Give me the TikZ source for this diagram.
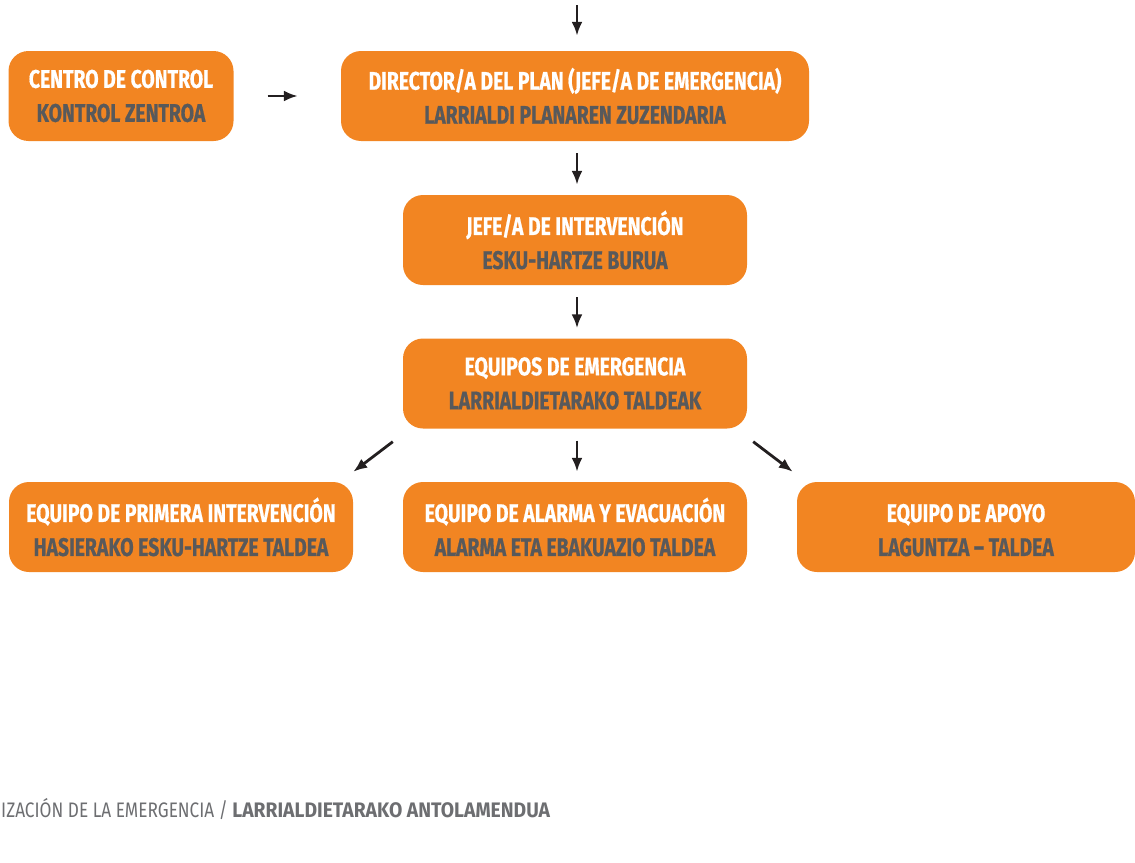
\documentclass[tikz,border=0pt]{standalone}
\usepackage{fontspec}
\newfontfamily\dinfont[FakeStretch=0.76, BoldFeatures={FakeBold=0.6}]{Fira Sans}
\newfontfamily\piefont[FakeStretch=0.82, BoldFeatures={FakeStretch=0.92}]{Fira Sans}
\usetikzlibrary{arrows.meta,calc}
\definecolor{naranja}{HTML}{F28522}
\definecolor{grisTxt}{HTML}{58595B}
\definecolor{grisPie}{HTML}{6D6E71}
\definecolor{negro}{HTML}{231F20}

\begin{document}
\begin{tikzpicture}[x=1pt,y=-1pt,
    caja/.style={rectangle, rounded corners=20pt, fill=naranja, inner sep=0pt,
        minimum height=90pt, align=center,
        font=\dinfont\bfseries\fontsize{25.5}{34}\selectfont},
    flecha/.style={-{Latex[length=14pt,width=11pt]}, line width=2.8pt, negro}]
    \useasboundingbox (0,0) rectangle (1135,862);

    % Boxes
    \node[caja, minimum width=225pt] (centro) at (121,96)
        {\textcolor{white}{CENTRO DE CONTROL}\\\textcolor{grisTxt}{KONTROL ZENTROA}};
    \node[caja, minimum width=468pt] (director) at (575,96)
        {\textcolor{white}{DIRECTOR/A DEL PLAN (JEFE/A DE EMERGENCIA)}\\\textcolor{grisTxt}{LARRIALDI PLANAREN ZUZENDARIA}};
    \node[caja, minimum width=344pt] (jefe) at (575,240)
        {\textcolor{white}{JEFE/A DE INTERVENCIÓN}\\\textcolor{grisTxt}{ESKU-HARTZE BURUA}};
    \node[caja, minimum width=344pt] (equipos) at (575,383.5)
        {\textcolor{white}{EQUIPOS DE EMERGENCIA}\\\textcolor{grisTxt}{LARRIALDIETARAKO TALDEAK}};
    \node[caja, minimum width=344pt] (primera) at (181,527)
        {\textcolor{white}{EQUIPO DE PRIMERA INTERVENCIÓN}\\\textcolor{grisTxt}{HASIERAKO ESKU-HARTZE TALDEA}};
    \node[caja, minimum width=344pt] (alarma) at (575,527)
        {\textcolor{white}{EQUIPO DE ALARMA Y EVACUACIÓN}\\\textcolor{grisTxt}{ALARMA ETA EBAKUAZIO TALDEA}};
    \node[caja, minimum width=338pt] (apoyo) at (966,527)
        {\textcolor{white}{EQUIPO DE APOYO\vphantom{Ó}}\\\textcolor{grisTxt}{LAGUNTZA – TALDEA}};

    % Arrows
    \coordinate (entrada) at (577,5);
    \draw[flecha, shorten >=15pt] (entrada) -- (entrada |- director.north);
    \draw[flecha, shorten <=34pt, shorten >=43pt] (centro.east) -- (centro.east -| director.west);
    \draw[flecha, shorten <=12pt, shorten >=10pt] ($(director.south)+(2,0)$) -- ($(jefe.north)+(2,0)$);
    \draw[flecha, shorten <=12pt, shorten >=10pt] ($(jefe.south)+(2,0)$) -- ($(equipos.north)+(2,0)$);
    \draw[flecha, shorten <=12pt, shorten >=10pt] ($(equipos.south)+(2,0)$) -- ($(alarma.north)+(2,0)$);
    \draw[flecha] ($(equipos.south west)+(-10,13)$) -- ($(primera.north east)+(0,-10)$);
    \draw[flecha] ($(equipos.south east)+(6,13)$) -- ($(apoyo.north west)+(-4,-10)$);

    % Footer
    \node[anchor=base west, inner sep=0pt, text=grisPie,
        font=\piefont\fontsize{21}{24}\selectfont] (pie) at (1,817)
        {IZACIÓN DE LA EMERGENCIA / \textbf{LARRIALDIETARAKO ANTOLAMENDUA}};
\end{tikzpicture}
\end{document}
